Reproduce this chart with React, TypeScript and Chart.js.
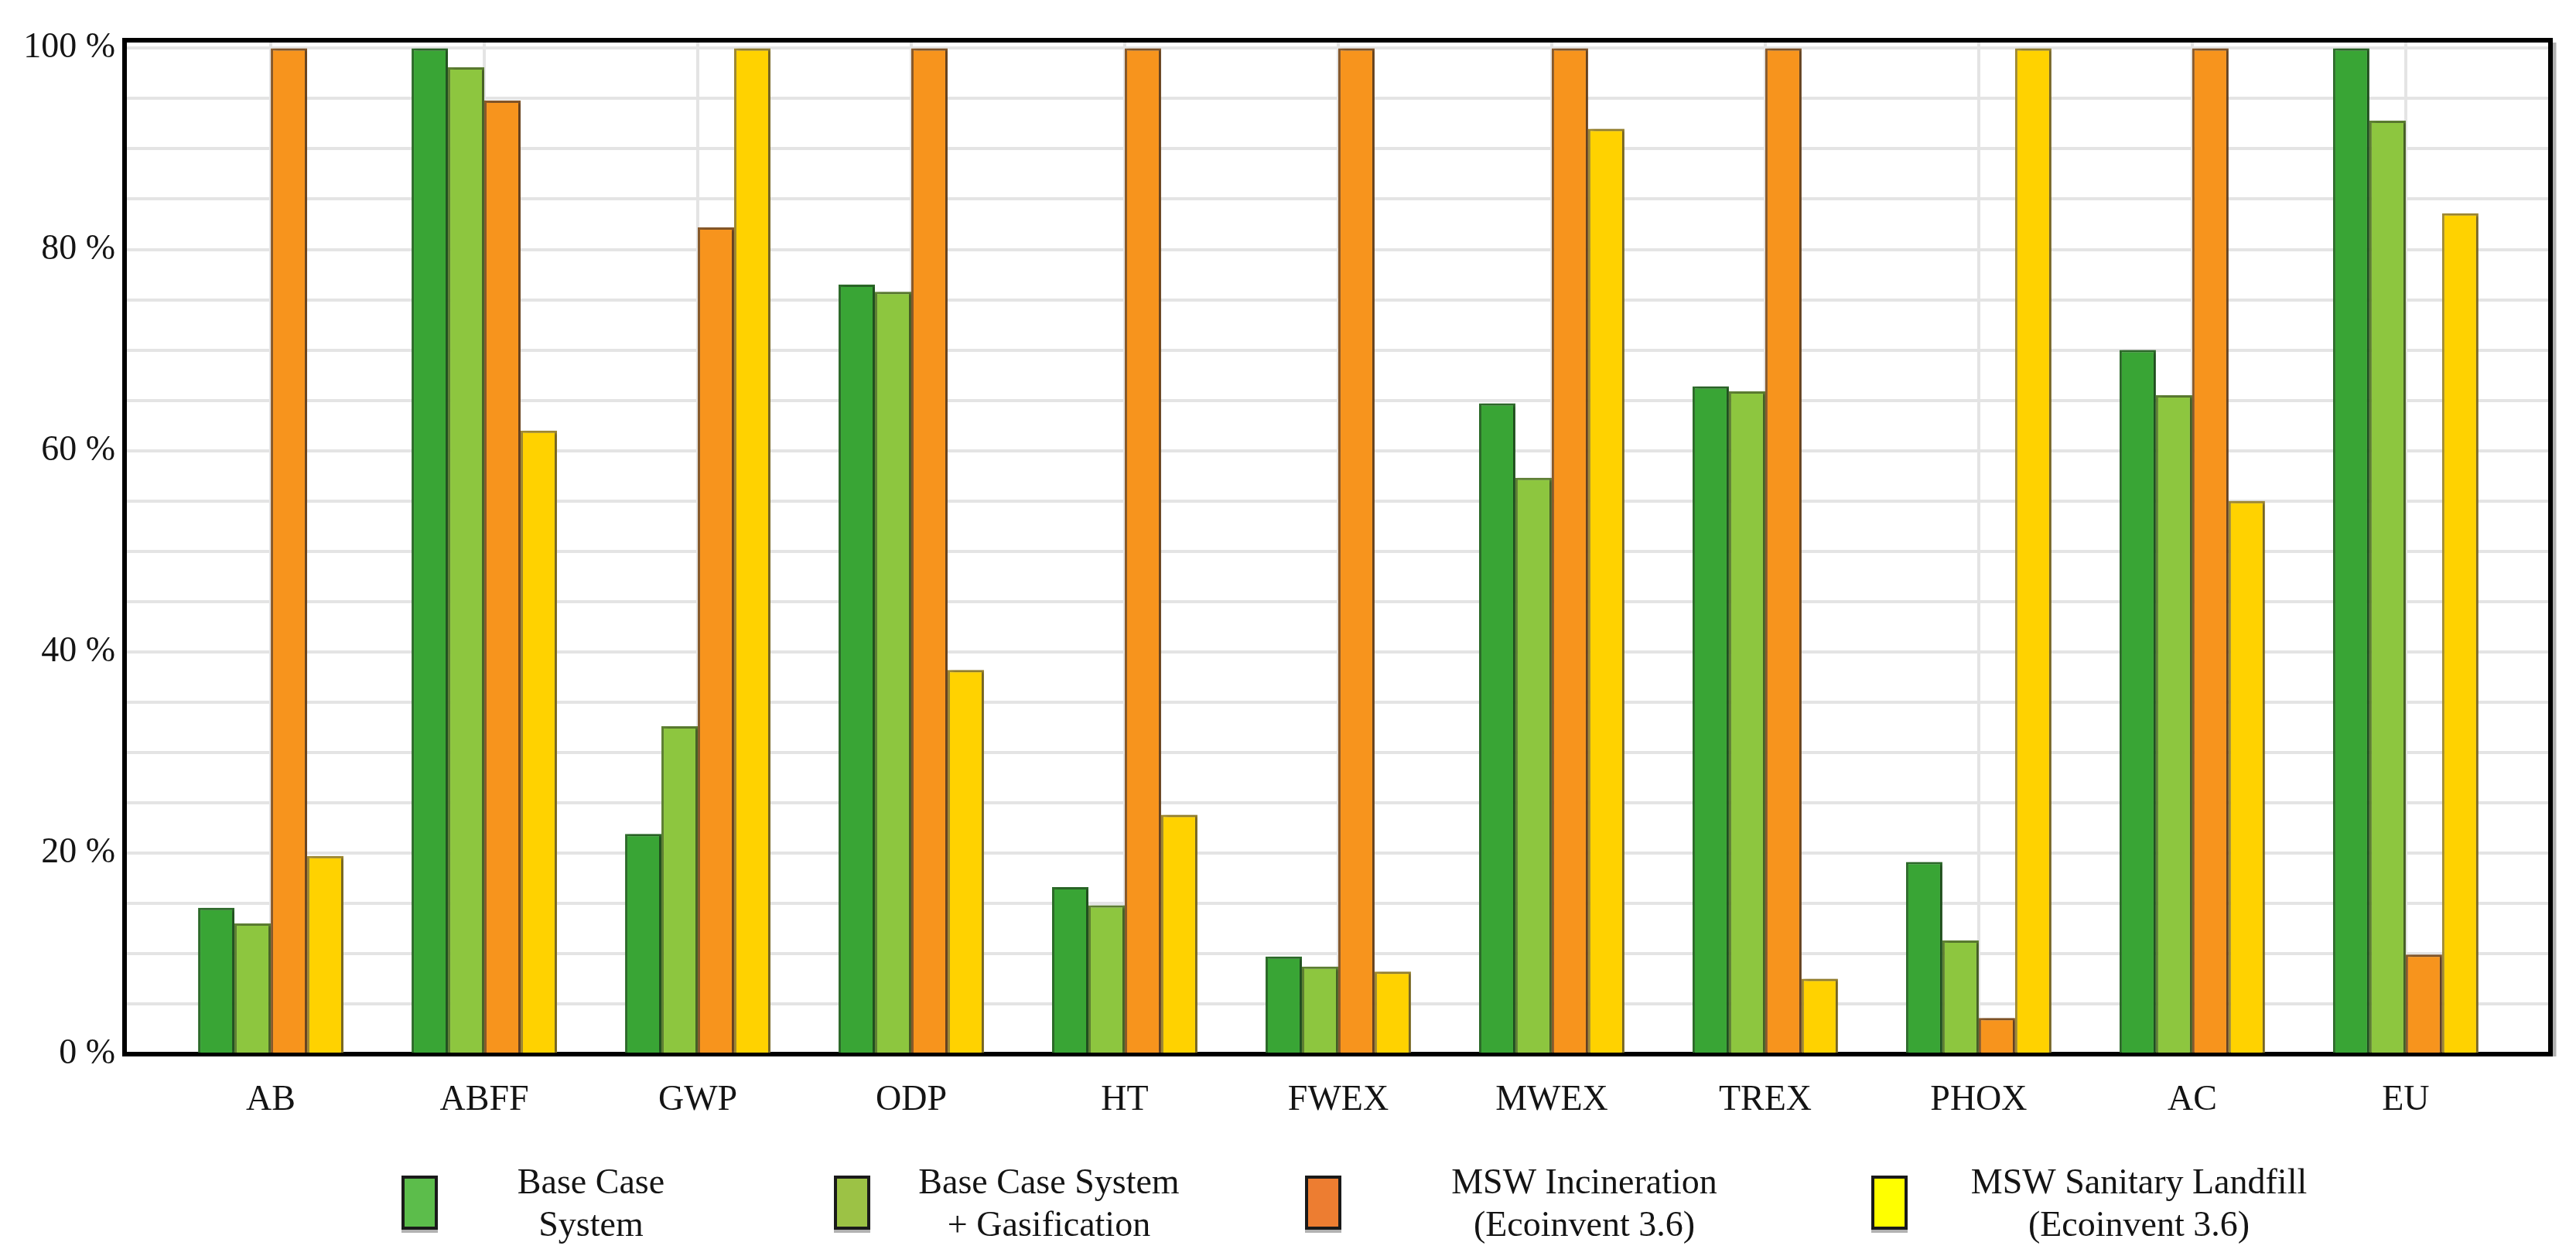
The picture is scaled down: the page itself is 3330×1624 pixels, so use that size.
import React, { useEffect, useRef } from 'react';
import { Chart, registerables } from 'chart.js';

Chart.register(...registerables);

const categories = ['AB', 'ABFF', 'GWP', 'ODP', 'HT', 'FWEX', 'MWEX', 'TREX', 'PHOX', 'AC', 'EU'];
const seriesNames = [
  'Base Case\nSystem',
  'Base Case System\n+ Gasification',
  'MSW Incineration\n(Ecoinvent 3.6)',
  'MSW Sanitary Landfill\n(Ecoinvent 3.6)',
];
const baseCase = [14.55, 100, 21.9, 76.5, 16.6, 9.7, 64.7, 66.4, 19.1, 70.0, 100];
const gasification = [13.0, 98.1, 32.6, 75.8, 14.8, 8.7, 57.3, 65.9, 11.3, 65.5, 92.8];
const incineration = [100, 94.8, 82.2, 100, 100, 100, 100, 100, 3.6, 100, 9.9];
const landfill = [19.7, 62.0, 100, 38.2, 23.8, 8.2, 92.0, 7.5, 100, 55.0, 83.6];
const yTickValues = [0, 5, 10, 15, 20, 25, 30, 35, 40, 45, 50, 55, 60, 65, 70, 75, 80, 85, 90, 95, 100];
const yLabelledTicks = [0, 20, 40, 60, 80, 100];

const barColors = ['#39A535', '#8DC63F', '#F7941D', '#FFD200'];
const barBorders = ['#2C6A29', '#5E7F33', '#87592B', '#9E8832'];
const legendColors = ['#5CBD4B', '#9CC245', '#ED7D31', '#FFFF00'];

const FONT = "'Liberation Serif', 'DejaVu Serif', serif";
const TEXT_COLOR = '#141414';

const framePlugin = {
  id: 'frame',
  afterDatasetsDraw(chart: any) {
    const { ctx, chartArea } = chart;
    const { left, right, top, bottom } = chartArea;
    ctx.save();
    ctx.strokeStyle = 'rgba(0,0,0,0.3)';
    ctx.lineWidth = 5;
    ctx.beginPath();
    ctx.moveTo(right + 5, top + 3);
    ctx.lineTo(right + 5, bottom + 3);
    ctx.stroke();
    ctx.strokeStyle = '#000';
    ctx.lineWidth = 6;
    ctx.beginPath();
    ctx.moveTo(left - 3, top);
    ctx.lineTo(right, top);
    ctx.lineTo(right, bottom + 3);
    ctx.stroke();
    ctx.restore();
  },
};

const legendPlugin = {
  id: 'customLegend',
  afterDraw(chart: any) {
    const { ctx } = chart;
    const swatchLeft = [519, 1078, 1687, 2419];
    const textCenter = [764, 1356, 2048, 2765];
    const swTop = 1520;
    const swW = 47;
    const swH = 70;
    ctx.save();
    chart.data.datasets.forEach((ds: any, i: number) => {
      const x = swatchLeft[i];
      ctx.fillStyle = 'rgba(0,0,0,0.3)';
      ctx.fillRect(x, swTop + 4, swW, swH);
      ctx.fillStyle = legendColors[i];
      ctx.fillRect(x, swTop, swW, swH);
      ctx.strokeStyle = '#1a1a1a';
      ctx.lineWidth = 4;
      ctx.strokeRect(x + 2, swTop + 2, swW - 4, swH - 4);
      ctx.fillStyle = TEXT_COLOR;
      ctx.font = `46px ${FONT}`;
      ctx.textAlign = 'center';
      ctx.textBaseline = 'middle';
      const lines = String(ds.label).split('\n');
      lines.forEach((ln: string, k: number) => {
        ctx.fillText(ln, textCenter[i], 1531 + k * 55);
      });
    });
    ctx.restore();
  },
};

const shadowPlugin = {
  id: 'barShadow',
  beforeDatasetsDraw(chart: any) {
    const ctx = chart.ctx;
    ctx.save();
    ctx.shadowColor = 'rgba(0,0,0,0.28)';
    ctx.shadowOffsetX = 4;
    ctx.shadowOffsetY = 0;
    ctx.shadowBlur = 3;
  },
  afterDatasetsDraw(chart: any) {
    chart.ctx.restore();
  },
};

export default function App() {
  const canvasRef = useRef<HTMLCanvasElement | null>(null);

  useEffect(() => {
    if (!canvasRef.current) return;
    const series = [baseCase, gasification, incineration, landfill];
    const chart = new Chart(canvasRef.current, {
      type: 'bar',
      data: {
        datasets: series.map((vals, s) => ({
          label: seriesNames[s],
          data: categories.map((_, i) => ({ x: i, y: vals[i] })),
          backgroundColor: barColors[s],
          borderColor: barBorders[s],
          borderWidth: 3,
          categoryPercentage: 0.681,
          barPercentage: 1,
        })),
      },
      options: {
        responsive: false,
        animation: false,
        devicePixelRatio: 1,
        layout: { padding: { left: 0, right: 33, top: 52, bottom: 0 } },
        scales: {
          x: {
            type: 'linear',
            min: -0.685,
            max: 10.678,
            offset: false,
            afterBuildTicks: (scale: any) => {
              scale.ticks = categories.map((_, i) => ({ value: i }));
            },
            afterFit: (scale: any) => {
              scale.height = 261;
            },
            ticks: {
              autoSkip: false,
              maxRotation: 0,
              padding: 32,
              color: TEXT_COLOR,
              font: { family: FONT, size: 46 },
              callback: (v: any) => categories[Math.round(Number(v))] ?? '',
            },
            grid: { color: '#e4e4e4', lineWidth: 4, drawTicks: false, offset: false },
            border: { display: true, color: '#000', width: 6 },
          },
          y: {
            min: 0,
            max: 100.8,
            afterBuildTicks: (scale: any) => {
              scale.ticks = yTickValues.map((v) => ({ value: v }));
            },
            afterFit: (scale: any) => {
              scale.width = 161;
            },
            ticks: {
              autoSkip: false,
              padding: 12,
              color: TEXT_COLOR,
              font: { family: FONT, size: 46 },
              callback: (v: any) => (yLabelledTicks.includes(Number(v)) ? `${v} %` : ''),
            },
            grid: { color: '#e4e4e4', lineWidth: 4, drawTicks: false },
            border: { display: true, color: '#000', width: 6 },
          },
        },
        plugins: {
          legend: { display: false },
          tooltip: { enabled: false },
        },
      } as any,
      plugins: [shadowPlugin, framePlugin, legendPlugin],
    });
    return () => chart.destroy();
  }, []);

  return (
    <div style={{ position: 'absolute', left: 0, top: 0, width: 3330, height: 1624, background: '#fff' }}>
      <canvas ref={canvasRef} width={3330} height={1624} style={{ width: 3330, height: 1624, display: 'block' }} />
    </div>
  );
}
